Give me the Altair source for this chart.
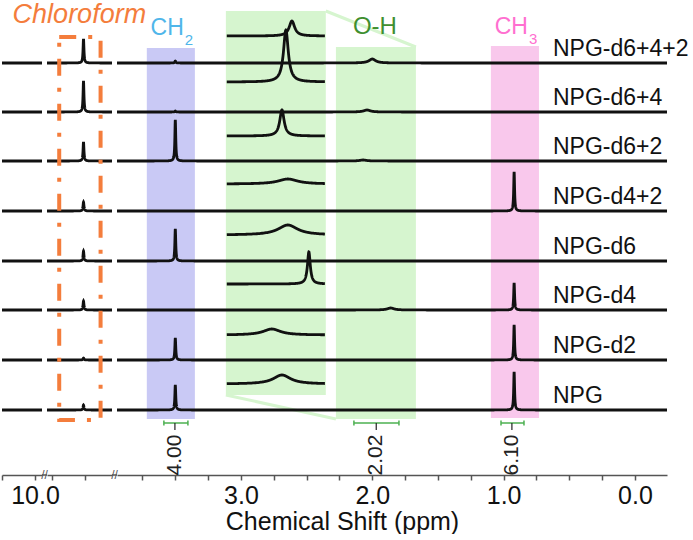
import numpy as np
import pandas as pd
import altair as alt

FONT = "Liberation Sans"

# ---------------- data ----------------
samples = ["NPG-d6+4+2", "NPG-d6+4", "NPG-d6+2", "NPG-d4+2",
           "NPG-d6", "NPG-d4", "NPG-d2", "NPG"]
baseline = [412, 363, 314, 264, 214, 165, 115, 65]      # vertical stacking offset

chcl3_ppm = 7.26
ch2_ppm = 3.50
ch3_ppm = 0.92
chcl3_h = [24, 31, 19, 9, 10, 9, 2, 5]
ch2_h = [2, 1, 41, 0, 32, 0, 22, 25]
ch3_h = [0, 0, 0, 39, 0, 27, 35, 38]
oh_ppm = [2.00, 2.04, 2.07, 2.00, 2.00, 1.86, 2.00, 2.00]
oh_h = [4, 2, 1, 0, 0, 2, 0, 0]
sharp_w = 0.004
oh_w = 0.03

# magnified O-H inset (drawn inside the left green panel)
inset_base = [439, 393, 339, 291, 240, 191, 140, 91]
inset_ppm = [2.612, 2.658, 2.688, 2.643, 2.643, 2.483, 2.765, 2.688]
inset_h = [15, 52, 26, 5, 10, 32, 6, 9]
inset_w = [0.025, 0.022, 0.02, 0.09, 0.09, 0.013, 0.08, 0.08]
inset_range = (2.361, 3.108)

# axis segments (broken axis)
left_dom = (9.947, 10.251)
mid_dom = (7.043, 7.538)
main_dom = (-0.244, 3.944)
gap_ppm = 5 / 131.3

# highlighted regions
band_x1 = [3.717, 1.097, 3.115, 2.277]
band_x2 = [3.351, 0.731, 2.354, 1.668]
band_y1 = [56, 57, 80, 56]
band_y2 = [427, 429, 464, 428]
band_fill = ["#c9c9f5", "#f9c8ec", "#d6f5cf", "#d6f5cf"]

zoom_x1 = [2.354, 3.115]
zoom_y1 = [464, 80]
zoom_x2 = [1.668, 2.277]
zoom_y2 = [428, 56]

int_lo = [3.587, 2.140, 1.020]
int_hi = [3.404, 1.797, 0.845]
int_mid = [3.503, 1.970, 0.937]
int_label = ["4.00", "2.02", "6.10"]

box_x = [7.445, 7.130]
box_y = [55, 438]


def lor(x, c, h, w):
    return h * w * w / ((x - c) ** 2 + w * w)


def grid(lo, hi, centers, half=0.06):
    pts = [np.linspace(lo, hi, int((hi - lo) / 0.01) + 2)]
    for c in centers:
        if lo <= c <= hi:
            pts.append(np.linspace(max(lo, c - half), min(hi, c + half), 241))
    return np.unique(np.concatenate(pts))


def spectra(lo, hi, centers, fn):
    x = grid(lo, hi, centers)
    out = []
    for i, s in enumerate(samples):
        out.append(pd.DataFrame({"row": s, "ppm": np.round(x, 5),
                                 "v": np.round(baseline[i] + fn(i, x), 3)}))
    return pd.concat(out, ignore_index=True)


left_df = spectra(*left_dom, [], lambda i, x: 0 * x)
mid_df = spectra(*mid_dom, [chcl3_ppm],
                 lambda i, x: lor(x, chcl3_ppm, chcl3_h[i], sharp_w))
main_df = spectra(*main_dom, [ch2_ppm, ch3_ppm] + oh_ppm,
                  lambda i, x: lor(x, ch2_ppm, ch2_h[i], sharp_w)
                  + lor(x, ch3_ppm, ch3_h[i], sharp_w)
                  + lor(x, oh_ppm[i], oh_h[i], oh_w))

ins = []
for i, s in enumerate(samples):
    x = grid(*inset_range, [inset_ppm[i]], half=0.15)
    ins.append(pd.DataFrame({"row": s, "ppm": np.round(x, 5),
                             "v": np.round(inset_base[i] + lor(x, inset_ppm[i], inset_h[i], inset_w[i]), 3)}))
inset_df = pd.concat(ins, ignore_index=True)

bands_df = pd.DataFrame({"x1": band_x1, "x2": band_x2, "y1": band_y1, "y2": band_y2, "fill": band_fill})
zoom_df = pd.DataFrame({"x1": zoom_x1, "x2": zoom_x2, "y1": zoom_y1, "y2": zoom_y2})
int_df = pd.DataFrame({"lo": int_lo, "hi": int_hi, "mid": int_mid, "label": int_label})
int_df["bar"] = 52
int_df["cap1"] = 49.5
int_df["cap2"] = 54.5
int_df["tick"] = 45
int_df["txt"] = 20
lab_df = pd.DataFrame({"label": samples, "v": [b + 7 for b in baseline]})
lab_df["ppm"] = 0.6245

grp_df = pd.DataFrame({"ppm": [1.98], "v": [441], "t": ["O-H"]})
ch_df = pd.DataFrame({"ppm": [3.534, 0.914], "v": [440, 441], "t": ["CH", "CH"],
                      "c": ["#4fb6ea", "#ff6fd0"]})
sub_df = pd.DataFrame({"ppm": [3.534, 0.914], "v": [430, 431], "t": ["2", "3"],
                       "c": ["#4fb6ea", "#ff6fd0"]})
box_df = pd.DataFrame({"x1": [box_x[0]], "x2": [box_x[1]], "y1": [box_y[0]], "y2": [box_y[1]]})
cl_df = pd.DataFrame({"ppm": [7.80], "v": [452], "t": ["Chloroform"]})

# ---------------- encodings ----------------
yscale = alt.Scale(domain=[0, 473], nice=False, zero=False)


def Y(f):
    return alt.Y(f, type="quantitative", scale=yscale, axis=None)


axis_common = dict(domainColor="#555", domainWidth=1.5, tickColor="#555", tickWidth=1.5,
                   tickSize=5, labelFontSize=25, labelColor="#111", labelFont=FONT,
                   labelFlush=False, labelPadding=3, grid=False, labelOverlap=False)

main_axis = alt.Axis(values=[round(0.25 * k, 2) for k in range(16)],
                     labelExpr="datum.value % 1 === 0 ? format(datum.value, '.1f') : ''",
                     title="Chemical Shift (ppm)", titleFontSize=25, titleFontWeight="normal",
                     titleFont=FONT, titleColor="#111", titleX=225, titleY=54,
                     titleBaseline="alphabetic", **axis_common)
left_axis = alt.Axis(values=[10.0, 10.25],
                     labelExpr="datum.value === 10 ? '10.0' : ''", title=None, **axis_common)
mid_axis = alt.Axis(values=[7.25, 7.5], labelExpr="''", title=None, **axis_common)


def mkX(dom, axis):
    sc = alt.Scale(domain=list(dom), reverse=True, nice=False, zero=False)
    return lambda f: alt.X(f, type="quantitative", scale=sc, axis=axis)


XL = mkX(left_dom, left_axis)
XM = mkX(mid_dom, mid_axis)
XX = mkX(main_dom, main_axis)

line_kw = dict(color="#111", strokeWidth=2.8, clip=True)
H = 473


def breaks(X, edge):
    bdf = pd.DataFrame({"a": [edge + gap_ppm], "b": [edge], "v": [0], "t": ["//"]})
    bridge = alt.Chart(bdf).mark_rule(color="#555", strokeWidth=1.5).encode(
        x=X("a"), x2="b", y=Y("v"))
    mark = alt.Chart(bdf).mark_text(font=FONT, fontSize=12, color="#555", dx=-2.5, dy=4,
                                    baseline="alphabetic").encode(x=X("b"), y=Y("v"), text="t:N")
    return [bridge, mark]


# ---------------- left panel ----------------
left = alt.Chart(left_df).mark_line(**line_kw).encode(
    x=XL("ppm"), y=Y("v"), detail="row:N").properties(width=40, height=H)

# ---------------- middle panel (chloroform) ----------------
mid_lines = alt.Chart(mid_df).mark_line(**line_kw).encode(x=XM("ppm"), y=Y("v"), detail="row:N")
mid_box = alt.Chart(box_df).mark_rect(filled=False, stroke="#f47d3c", strokeWidth=4,
                                      strokeDash=[17, 12, 4, 12]).encode(
    x=XM("x1"), x2="x2", y=Y("y1"), y2="y2")
mid_txt = alt.Chart(cl_df).mark_text(font=FONT, fontSize=27, fontStyle="italic", color="#f47d3c",
                                     align="left", baseline="alphabetic").encode(
    x=XM("ppm"), y=Y("v"), text="t:N")
mid = alt.layer(mid_lines, mid_box, mid_txt, *breaks(XM, mid_dom[1])).properties(width=65, height=H)

# ---------------- main panel ----------------
m_bands = alt.Chart(bands_df).mark_rect().encode(
    x=XX("x1"), x2="x2", y=Y("y1"), y2="y2", fill=alt.Fill("fill:N", scale=None))
m_zoom = alt.Chart(zoom_df).mark_rule(color="#d6f5cf", strokeWidth=3).encode(
    x=XX("x1"), x2="x2", y=Y("y1"), y2="y2")
m_lines = alt.Chart(main_df).mark_line(**line_kw).encode(x=XX("ppm"), y=Y("v"), detail="row:N")
m_inset = alt.Chart(inset_df).mark_line(**line_kw).encode(x=XX("ppm"), y=Y("v"), detail="row:N")
m_ibar = alt.Chart(int_df).mark_rule(color="#4cb050", strokeWidth=1.5).encode(
    x=XX("lo"), x2="hi", y=Y("bar"))
m_icap1 = alt.Chart(int_df).mark_rule(color="#4cb050", strokeWidth=1.5).encode(
    x=XX("lo"), y=Y("cap1"), y2="cap2")
m_icap2 = alt.Chart(int_df).mark_rule(color="#4cb050", strokeWidth=1.5).encode(
    x=XX("hi"), y=Y("cap1"), y2="cap2")
m_itick = alt.Chart(int_df).mark_rule(color="#222", strokeWidth=1.2).encode(
    x=XX("mid"), y=Y("tick"), y2="bar")
m_itxt = alt.Chart(int_df).mark_text(font=FONT, fontSize=21, color="#222", angle=270,
                                     align="center", baseline="middle").encode(
    x=XX("mid"), y=Y("txt"), text="label:N")
m_labels = alt.Chart(lab_df).mark_text(font=FONT, fontSize=23, color="#111", align="left",
                                       baseline="alphabetic").encode(
    x=XX("ppm"), y=Y("v"), text="label:N")
m_oh = alt.Chart(grp_df).mark_text(font=FONT, fontSize=24, color="#3f8f30", align="center",
                                   baseline="alphabetic").encode(x=XX("ppm"), y=Y("v"), text="t:N")
m_ch = alt.Chart(ch_df).mark_text(font=FONT, fontSize=23, align="right",
                                  baseline="alphabetic", dx=13).encode(
    x=XX("ppm"), y=Y("v"), text="t:N", color=alt.Color("c:N", scale=None))
m_sub = alt.Chart(sub_df).mark_text(font=FONT, fontSize=15, align="left",
                                    baseline="alphabetic", dx=14).encode(
    x=XX("ppm"), y=Y("v"), text="t:N", color=alt.Color("c:N", scale=None))

main = alt.layer(m_bands, m_zoom, m_lines, m_inset, m_ibar, m_icap1, m_icap2, m_itick,
                 m_itxt, m_labels, m_oh, m_ch, m_sub, *breaks(XX, main_dom[1])
                 ).properties(width=550, height=H)

chart = alt.hconcat(left, mid, main, spacing=5, bounds="flush").properties(
    padding={"left": 1, "top": 0, "right": 0, "bottom": 0}
).configure(font=FONT).configure_view(stroke=None)

chart.save("out.html", embed_options={"renderer": "svg", "actions": False})
